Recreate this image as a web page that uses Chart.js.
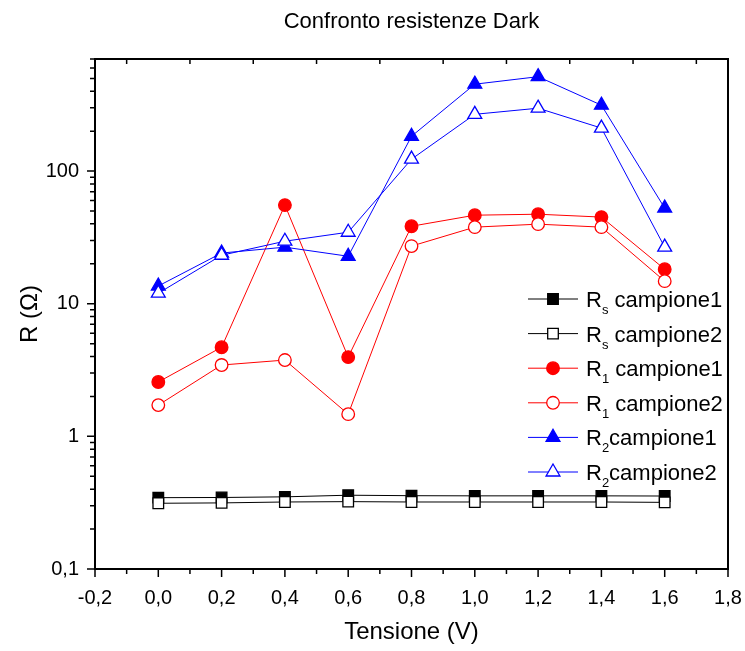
<!DOCTYPE html>
<html>
<head>
<meta charset="utf-8">
<title>Confronto resistenze Dark</title>
<script src="https://cdn.jsdelivr.net/npm/chart.js@4.4.0/dist/chart.umd.min.js"></script>
<style>
  html, body { margin: 0; padding: 0; background: #fff; }
  #wrap { width: 745px; height: 651px; }
</style>
</head>
<body>
<div id="wrap"><canvas id="chart" width="745" height="651"></canvas></div>
<script>
// tensione applicata (V)
const tensione = [0.0, 0.2, 0.4, 0.6, 0.8, 1.0, 1.2, 1.4, 1.6];

// resistenze misurate al buio (ohm)
const rsCampione1 = [0.345, 0.346, 0.35, 0.36, 0.357, 0.356, 0.356, 0.356, 0.355];
const rsCampione2 = [0.313, 0.315, 0.32, 0.322, 0.32, 0.32, 0.32, 0.32, 0.318];
const r1Campione1 = [2.57, 4.7, 55.4, 3.96, 38.4, 46.5, 47.3, 45, 18.2];
const r1Campione2 = [1.72, 3.45, 3.76, 1.47, 27.2, 37.8, 39.8, 37.8, 14.8];
const r2Campione1 = [13.6, 24.1, 26.7, 22.8, 183, 452, 515, 314, 52.6];
const r2Campione2 = [12.0, 23.2, 29.6, 34.6, 123, 268, 298, 211, 26.7];

// nomi delle serie, "_x" = pedice
const nomiSerie = ['R_s campione1', 'R_s campione2', 'R_1 campione1', 'R_1 campione2', 'R_2campione1', 'R_2campione2'];

const xTicks = [-0.2, 0.0, 0.2, 0.4, 0.6, 0.8, 1.0, 1.2, 1.4, 1.6, 1.8];
const yTicks = [0.1, 1, 10, 100];
const yMin = 0.1, yMax = 700;

const FONT = "'Liberation Sans', Arial, sans-serif";

function punti(vals) {
  return tensione.map((t, i) => ({ x: t, y: vals[i] }));
}

function serie(i, vals, colore, stile, raggio, pieno) {
  return {
    label: nomiSerie[i],
    data: punti(vals),
    borderColor: colore,
    borderWidth: 1,
    pointStyle: stile,
    pointRadius: raggio,
    pointHoverRadius: raggio,
    pointBorderColor: colore,
    pointBackgroundColor: pieno ? colore : '#fff',
    pointBorderWidth: 1.3,
    order: 6 - i,
    tension: 0
  };
}

// cornice e tacche degli assi (maggiori e minori)
const tacche = {
  id: 'tacche',
  afterDraw(chart) {
    const { ctx, chartArea: a, scales: { x, y } } = chart;
    ctx.save();
    ctx.strokeStyle = '#000';
    ctx.lineWidth = 2;
    ctx.beginPath();
    ctx.moveTo(a.left, a.top);
    ctx.lineTo(a.right, a.top);
    ctx.lineTo(a.right, a.bottom);
    ctx.stroke();

    ctx.lineWidth = 1.5;
    ctx.beginPath();
    xTicks.forEach((v, i) => {
      const px = x.getPixelForValue(v);
      ctx.moveTo(px, a.bottom);
      ctx.lineTo(px, a.bottom + 8);
      if (i < xTicks.length - 1) {
        const pm = x.getPixelForValue((v + xTicks[i + 1]) / 2);
        ctx.moveTo(pm, a.bottom);
        ctx.lineTo(pm, a.bottom + 5);
        ctx.moveTo(pm, a.top);
        ctx.lineTo(pm, a.top + 5);
      }
    });
    yTicks.forEach(d => {
      const py = y.getPixelForValue(d);
      ctx.moveTo(a.left, py);
      ctx.lineTo(a.left - 8, py);
      for (let m = 2; m <= 9; m++) {
        const v = d * m;
        if (v > yMax) break;
        const pm = y.getPixelForValue(v);
        ctx.moveTo(a.left, pm);
        ctx.lineTo(a.left - 5, pm);
      }
    });
    ctx.stroke();

    // titolo
    ctx.fillStyle = '#000';
    ctx.font = '22px ' + FONT;
    ctx.textAlign = 'center';
    ctx.textBaseline = 'middle';
    ctx.fillText('Confronto resistenze Dark', (a.left + a.right) / 2, 22);
    ctx.restore();
  }
};

// legenda con pedici
const legenda = {
  id: 'legenda',
  afterDraw(chart) {
    const { ctx, chartArea: a } = chart;
    const x0 = a.right - 200;
    const y0 = a.top + 240;
    const passo = 34.6;
    ctx.save();
    chart.data.datasets.forEach((ds, i) => {
      const yc = y0 + i * passo;
      ctx.strokeStyle = ds.borderColor;
      ctx.lineWidth = ds.borderWidth;
      ctx.beginPath();
      ctx.moveTo(x0, yc);
      ctx.lineTo(x0 + 50, yc);
      ctx.stroke();
      ctx.fillStyle = ds.pointBackgroundColor;
      ctx.strokeStyle = ds.pointBorderColor;
      ctx.lineWidth = ds.pointBorderWidth;
      Chart.helpers.drawPoint(ctx, {
        pointStyle: ds.pointStyle, radius: ds.pointRadius, rotation: 0, borderWidth: ds.pointBorderWidth
      }, x0 + 25, yc);

      const m = /^(\w)_(\w)(.*)$/.exec(ds.label);
      let tx = x0 + 58;
      const base = yc + 8;
      ctx.fillStyle = '#000';
      ctx.textAlign = 'left';
      ctx.textBaseline = 'alphabetic';
      ctx.font = '22px ' + FONT;
      ctx.fillText(m[1], tx, base);
      tx += ctx.measureText(m[1]).width;
      ctx.font = '13px ' + FONT;
      ctx.fillText(m[2], tx, base + 7);
      tx += ctx.measureText(m[2]).width;
      ctx.font = '22px ' + FONT;
      ctx.fillText(m[3], tx, base);
    });
    ctx.restore();
  }
};

new Chart(document.getElementById('chart'), {
  type: 'line',
  data: {
    datasets: [
      serie(0, rsCampione1, '#000000', 'rect', 7.5, true),
      serie(1, rsCampione2, '#000000', 'rect', 7.5, false),
      serie(2, r1Campione1, '#ff0000', 'circle', 6.3, true),
      serie(3, r1Campione2, '#ff0000', 'circle', 6.3, false),
      serie(4, r2Campione1, '#0000ff', 'triangle', 8, true),
      serie(5, r2Campione2, '#0000ff', 'triangle', 8, false)
    ]
  },
  options: {
    responsive: false,
    animation: false,
    layout: { padding: { top: 59, right: 17, left: 0, bottom: 0 } },
    plugins: {
      legend: { display: false },
      title: { display: false },
      tooltip: { enabled: false }
    },
    scales: {
      x: {
        type: 'linear',
        min: -0.2,
        max: 1.8,
        afterBuildTicks: s => { s.ticks = xTicks.map(v => ({ value: v })); },
        afterFit: s => { s.height = 82; s.paddingLeft = 0; s.paddingRight = 0; },
        grid: { display: false, drawTicks: false },
        border: { display: true, color: '#000', width: 2 },
        ticks: {
          padding: 17,
          color: '#000',
          font: { family: FONT, size: 20 },
          maxRotation: 0,
          callback: v => v.toFixed(1).replace('.', ',')
        },
        title: {
          display: true,
          text: 'Tensione (V)',
          color: '#000',
          font: { family: FONT, size: 24 },
          padding: { top: 0, bottom: 4 }
        }
      },
      y: {
        type: 'logarithmic',
        min: yMin,
        max: yMax,
        afterBuildTicks: s => { s.ticks = yTicks.map(v => ({ value: v })); },
        afterFit: s => { s.width = 95; s.paddingTop = 0; s.paddingBottom = 0; },
        grid: { display: false, drawTicks: false },
        border: { display: true, color: '#000', width: 2 },
        ticks: {
          padding: 16,
          color: '#000',
          font: { family: FONT, size: 20 },
          callback: v => String(v).replace('.', ',')
        },
        title: {
          display: true,
          text: 'R (\u03A9)',
          color: '#000',
          font: { family: FONT, size: 24 },
          padding: { top: 16, bottom: 0 }
        }
      }
    }
  },
  plugins: [tacche, legenda]
});
</script>
</body>
</html>
